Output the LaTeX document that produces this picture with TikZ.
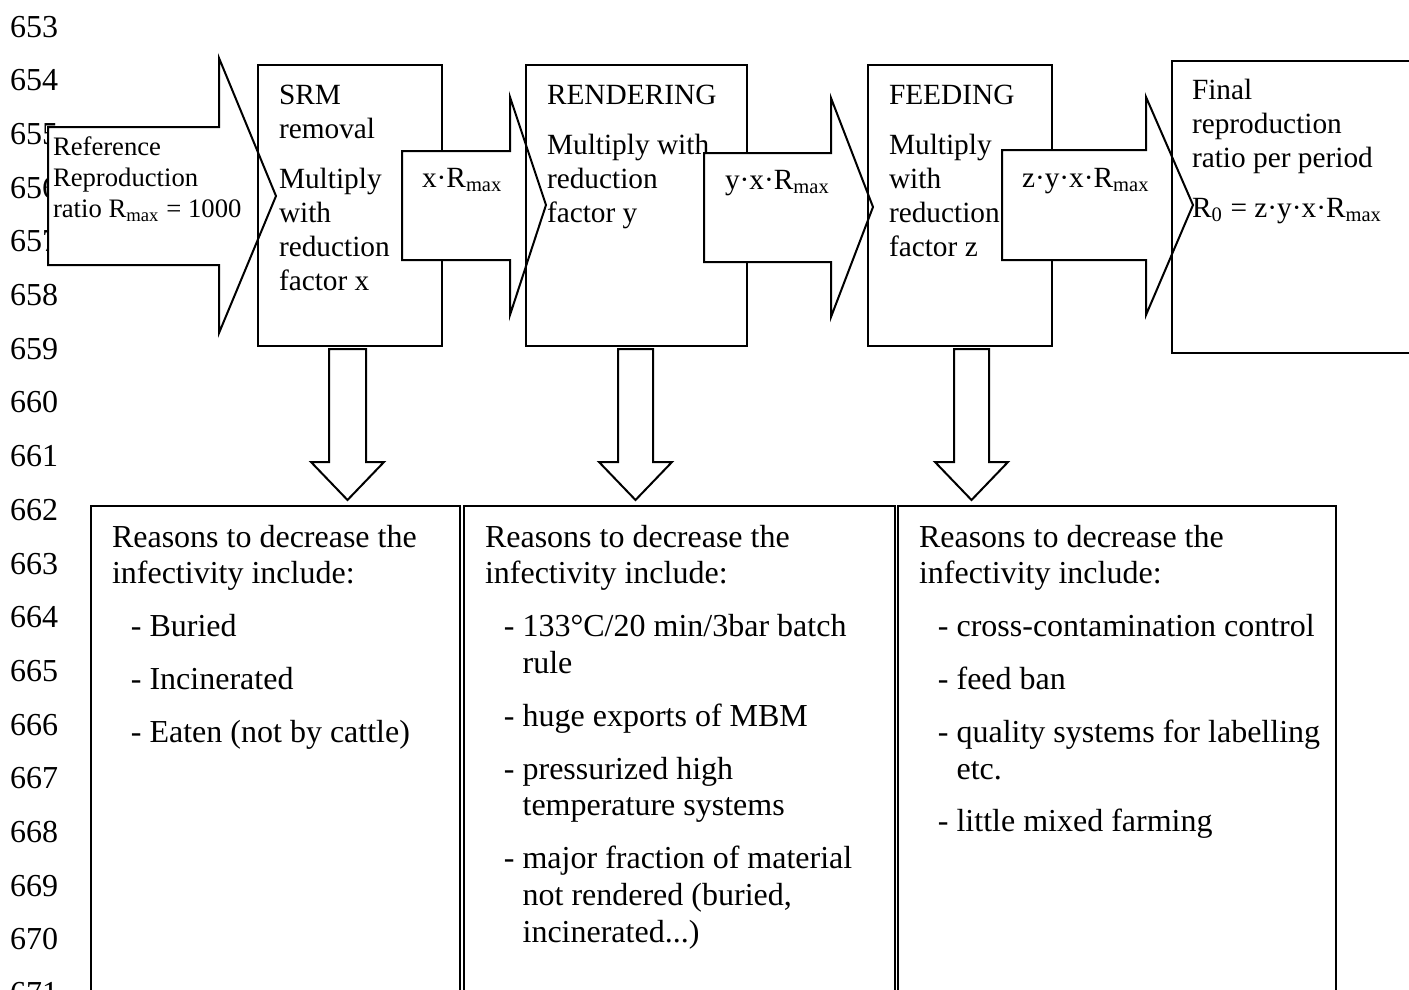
\documentclass[tikz,border=0pt]{standalone}
\usepackage{fontspec}
\setmainfont{Liberation Serif}

% font set-ups for the three text sizes used in the chart
\newcommand\numfont{\fontsize{12}{14}\selectfont}
\newcommand\topfont{\fontsize{11}{12.75}\selectfont\raggedright\setlength\parskip{6pt}}
\newcommand\lowfont{\fontsize{12}{13.8}\selectfont\setlength\parskip{6pt}}
% one dash item with hanging indent (lines inside an item are broken with \newline)
\newcommand\dashitem{\par\hangindent=14.1pt\hangafter=1\noindent\hspace*{7.1pt}-\ }

% block arrow pointing right: x0, y-top, y-bottom, x-neck, head-top, head-bottom, tip-x, tip-y
\newcommand\rightblock[8]{%
  \filldraw[blockarrow] (#1,#2) -- (#4,#2) -- (#4,#5) -- (#7,#8) -- (#4,#6) -- (#4,#3) -- (#1,#3) -- cycle;}
% block arrow pointing down: shaft-left, shaft-right, head-left, head-right, tip-x
\newcommand\downblock[5]{%
  \filldraw[blockarrow] (#1,349) -- (#2,349) -- (#2,462) -- (#4,462) -- (#5,500) -- (#3,462) -- (#1,462) -- cycle;}

\tikzset{
  blockarrow/.style={draw=black, fill=white, line width=0.75pt, line join=miter},
  panel/.style={draw=black, line width=0.75pt},
  lbl/.style={anchor=base west, inner sep=0pt, outer sep=0pt},
}

\begin{document}
\begin{tikzpicture}[x=0.375pt, y=-0.375pt]
\useasboundingbox (0,0) rectangle (1409,989);

% line numbers in the margin
\foreach \n [count=\i from 0] in {653,...,671}
  \node[lbl, font=\numfont] (ln\n) at (10,{37+53.7*\i}) {\n};

% upper chain: arrows and stage boxes
\rightblock{48}{127}{265}{219}{58}{333}{276}{196}
\draw[panel] (258,65) rectangle (442,346);
\rightblock{402}{151}{260}{510}{97}{315}{546}{205}
\draw[panel] (526,65) rectangle (747,346);
\rightblock{704}{153}{262}{831}{98}{317}{873}{207}
\draw[panel] (868,65) rectangle (1052,346);
\rightblock{1002}{150}{260}{1146}{97}{315}{1193}{205}
\draw[panel] (1172,61) rectangle (1420,353);

% downward arrows to the reason panels
\downblock{329}{366}{311}{384}{347.5}
\downblock{618}{653}{599}{672}{635.5}
\downblock{954}{989}{935}{1008}{971.5}

% lower reason panels
\draw[panel] (91,506) rectangle (460,1000);
\draw[panel] (463.5,506) rectangle (895,1000);
\draw[panel] (898,506) rectangle (1336,1000);

% texts of the upper chain
\node[lbl] (reftext) at (53,155) {\parbox[t]{110pt}{\fontsize{10}{11.8}\selectfont\raggedright
  Reference\\Reproduction\\ratio R\textsubscript{max} = 1000}};
\node[lbl] (srmtext) at (279,104) {\parbox[t]{120pt}{\topfont
  SRM\\removal\par Multiply\\with\\reduction\\factor x}};
\node[lbl, font=\fontsize{11}{13}\selectfont] (xlabel) at (422,187) {x·R\textsubscript{max}};
\node[lbl] (rendtext) at (547,104) {\parbox[t]{120pt}{\topfont
  RENDERING\par Multiply with\\reduction\\factor y}};
\node[lbl, font=\fontsize{11}{13}\selectfont] (yxlabel) at (725,189) {y·x·R\textsubscript{max}};
\node[lbl] (feedtext) at (889,104) {\parbox[t]{120pt}{\topfont
  FEEDING\par Multiply\\with\\reduction\\factor z}};
\node[lbl, font=\fontsize{11}{13}\selectfont] (zyxlabel) at (1022,187) {z·y·x·R\textsubscript{max}};
\node[lbl] (finaltext) at (1192,99) {\parbox[t]{150pt}{\topfont
  Final\\reproduction\\ratio per period\par R\textsubscript{0} = z·y·x·R\textsubscript{max}}};

% texts of the reason panels
\node[lbl] (srmreasons) at (112,547) {\parbox[t]{170pt}{\lowfont
  Reasons to decrease the\newline infectivity include:
  \dashitem Buried
  \dashitem Incinerated
  \dashitem Eaten (not by cattle)}};
\node[lbl] (rendreasons) at (485,547) {\parbox[t]{170pt}{\lowfont
  Reasons to decrease the\newline infectivity include:
  \dashitem 133°C/20 min/3bar batch\newline rule
  \dashitem huge exports of MBM
  \dashitem pressurized high\newline temperature systems
  \dashitem major fraction of material\newline not rendered (buried,\newline incinerated...)}};
\node[lbl] (feedreasons) at (919,547) {\parbox[t]{170pt}{\lowfont
  Reasons to decrease the\newline infectivity include:
  \dashitem cross-contamination control
  \dashitem feed ban
  \dashitem quality systems for labelling\newline etc.
  \dashitem little mixed farming}};
\end{tikzpicture}
\end{document}
